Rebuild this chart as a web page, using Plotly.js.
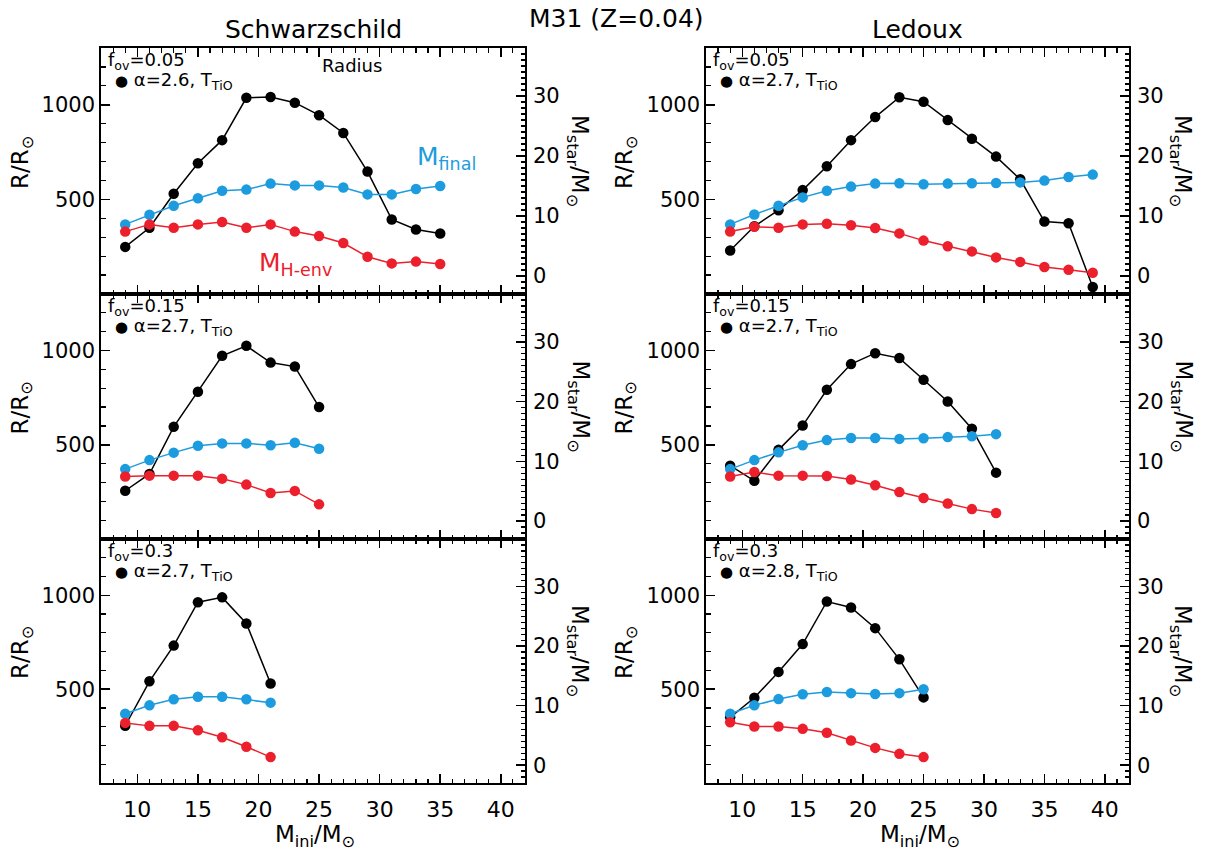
<!DOCTYPE html>
<html><head><meta charset="utf-8">
<script src="https://cdn.plot.ly/plotly-3.0.1.min.js"></script>
<style>html,body{margin:0;padding:0;background:#fff}#chart{width:1207px;height:854px}</style>
</head><body><div id="chart"></div>
<script>
// ---------------- data ----------------
// Schwarzschild, f_ov = 0.05
const mini_schw_005   = [9,11,13,15,17,19,21,23,25,27,29,31,33,35];
const radius_schw_005 = [249,350,530,691,813,1037,1041,1011,945,851,647,394,341,320];
const mfinal_schw_005 = [8.6,10.2,11.7,12.95,14.2,14.4,15.4,15.1,15.1,14.75,13.6,13.6,14.5,15.0];
const menv_schw_005   = [7.4,8.6,8.05,8.6,9.0,8.05,8.6,7.4,6.65,5.5,3.2,2.1,2.4,2.0];
// Ledoux, f_ov = 0.05
const mini_led_005    = [9,11,13,15,17,19,21,23,25,27,29,31,33,35,37,39];
const radius_led_005  = [230,358,443,549,675,813,935,1040,1016,919,820,726,606,383,374,37];
const mfinal_led_005  = [8.6,10.25,11.7,13.1,14.2,14.9,15.4,15.45,15.3,15.4,15.45,15.5,15.6,15.9,16.5,16.9];
const menv_led_005    = [7.4,8.2,8.05,8.6,8.7,8.45,8.0,7.1,5.9,4.95,4.1,3.1,2.35,1.5,1.05,0.55];
// Schwarzschild, f_ov = 0.15
const mini_schw_015   = [9,11,13,15,17,19,21,23,25];
const radius_schw_015 = [256,345,595,781,972,1025,936,915,700];
const mfinal_schw_015 = [8.7,10.2,11.45,12.6,13.0,13.0,12.7,13.1,12.1];
const menv_schw_015   = [7.45,7.6,7.6,7.6,7.1,6.1,4.7,5.05,2.8];
// Ledoux, f_ov = 0.15
const mini_led_015    = [9,11,13,15,17,19,21,23,25,27,29,31];
const radius_led_015  = [389,309,473,602,792,928,986,960,845,730,585,352];
const mfinal_led_015  = [8.7,10.2,11.5,12.7,13.55,13.9,13.9,13.75,13.85,14.05,14.2,14.55];
const menv_led_015    = [7.45,8.2,7.6,7.6,7.55,6.95,6.0,4.85,3.85,2.95,2.0,1.35];
// Schwarzschild, f_ov = 0.3
const mini_schw_03    = [9,11,13,15,17,19,21];
const radius_schw_03  = [305,542,732,963,989,850,530];
const mfinal_schw_03  = [8.65,10.05,11.06,11.5,11.5,11.06,10.5];
const menv_schw_03    = [7.1,6.6,6.6,5.85,4.7,3.1,1.35];
// Ledoux, f_ov = 0.3
const mini_led_03     = [9,11,13,15,17,19,21,23,25];
const radius_led_03   = [350,454,592,740,967,935,825,659,456];
const mfinal_led_03   = [8.65,10.05,11.1,11.9,12.3,12.1,11.95,12.1,12.75];
const menv_led_03     = [7.2,6.5,6.5,6.1,5.45,4.15,2.9,1.9,1.35];

const fovLabels   = ['0.05','0.05','0.15','0.15','0.3','0.3'];
const alphaLabels = ['2.6','2.7','2.7','2.7','2.7','2.8'];
const columnTitles = ['Schwarzschild','Ledoux'];
const mainTitle = 'M31 (Z=0.04)';

// ---------------- layout helpers ----------------
const W = 1207, H = 854;
const px = v => v / W;
const py = v => 1 - v / H;
const colPx = [[101,525],[706,1129]];
const rowPx = [[48,294],[294,539],[539,783]];
const FONT = 'DejaVu Sans, Liberation Sans, Arial, sans-serif';
const BLUE = 'rgb(28,156,222)';
const RED = 'rgb(236,32,44)';

const panels = [
  {mini: mini_schw_005, r: radius_schw_005, mf: mfinal_schw_005, me: menv_schw_005},
  {mini: mini_led_005,  r: radius_led_005,  mf: mfinal_led_005,  me: menv_led_005},
  {mini: mini_schw_015, r: radius_schw_015, mf: mfinal_schw_015, me: menv_schw_015},
  {mini: mini_led_015,  r: radius_led_015,  mf: mfinal_led_015,  me: menv_led_015},
  {mini: mini_schw_03,  r: radius_schw_03,  mf: mfinal_schw_03,  me: menv_schw_03},
  {mini: mini_led_03,   r: radius_led_03,   mf: mfinal_led_03,   me: menv_led_03}
];

const data = [];
const layout = {
  width: W, height: H,
  margin: {l:0, r:0, t:0, b:0},
  paper_bgcolor: '#fff', plot_bgcolor: 'rgba(0,0,0,0)',
  showlegend: false,
  font: {family: FONT, color: '#000', size: 20},
  annotations: []
};

panels.forEach((p, i) => {
  const col = i % 2, row = Math.floor(i / 2);
  const xs = i === 0 ? '' : String(i + 1);
  const yl = 2 * i + 1, yr = 2 * i + 2;
  const ylName = yl === 1 ? '' : String(yl);
  const xKey = 'x' + xs, ylKey = 'y' + ylName, yrKey = 'y' + yr;
  const mk = (c) => ({color: c, size: 10.5});
  data.push({x: p.mini, y: p.r, xaxis: xKey, yaxis: ylKey, mode: 'lines+markers',
             line: {color: '#000', width: 1.5}, marker: mk('#000'), cliponaxis: false});
  data.push({x: p.mini, y: p.mf, xaxis: xKey, yaxis: yrKey, mode: 'lines+markers',
             line: {color: BLUE, width: 1.5}, marker: mk(BLUE), cliponaxis: false});
  data.push({x: p.mini, y: p.me, xaxis: xKey, yaxis: yrKey, mode: 'lines+markers',
             line: {color: RED, width: 1.5}, marker: mk(RED), cliponaxis: false});

  const xdom = [px(colPx[col][0]), px(colPx[col][1])];
  const ydom = [py(rowPx[row][1]), py(rowPx[row][0])];
  layout['xaxis' + xs] = {
    domain: xdom, anchor: ylKey, range: [7, 42],
    tickmode: 'linear', tick0: 0, dtick: 5,
    ticks: 'inside', ticklen: 9, tickwidth: 1.5, tickcolor: '#000',
    minor: {ticks: 'inside', dtick: 1, tick0: 0, ticklen: 4.5, tickwidth: 1.2, tickcolor: '#000'},
    showline: true, linewidth: 1.8, linecolor: '#000', mirror: 'ticks',
    showgrid: false, zeroline: false,
    showticklabels: row === 2, ticklabelstandoff: 6,
    tickfont: {size: 22, family: FONT}
  };
  layout['yaxis' + ylName] = {
    domain: ydom, anchor: xKey, range: [0, 1300],
    tickmode: 'array', tickvals: [500, 1000], ticktext: ['500','1000'],
    ticks: 'inside', ticklen: 9, tickwidth: 1.5, tickcolor: '#000',
    minor: {ticks: 'inside', tickmode: 'linear', tick0: 0, dtick: 100, ticklen: 4.5, tickwidth: 1.2, tickcolor: '#000'},
    showline: true, linewidth: 1.8, linecolor: '#000',
    showgrid: false, zeroline: false, ticklabelstandoff: 0,
    tickfont: {size: 21, family: FONT}
  };
  layout['yaxis' + yr] = {
    domain: ydom, anchor: xKey, overlaying: ylKey, side: 'right', range: [-3, 38],
    tickmode: 'linear', tick0: 0, dtick: 10,
    ticks: 'inside', ticklen: 9, tickwidth: 1.5, tickcolor: '#000',
    minor: {ticks: 'inside', dtick: 1, tick0: 0, ticklen: 4.5, tickwidth: 1.2, tickcolor: '#000'},
    showline: true, linewidth: 1.8, linecolor: '#000',
    showgrid: false, zeroline: false, ticklabelstandoff: 2,
    tickfont: {size: 21, family: FONT}
  };

  const x0 = colPx[col][0], top = rowPx[row][0], bot = rowPx[row][1];
  const mid = (top + bot) / 2;
  // panel labels
  layout.annotations.push({xref:'paper', yref:'paper', x: px(x0 + 5), y: py(top + 13),
    xanchor:'left', yanchor:'middle', showarrow:false,
    text: 'f<sub>ov</sub>=' + fovLabels[i], font:{size:18, family: FONT}});
  layout.annotations.push({xref:'paper', yref:'paper', x: px(x0 + 12), y: py(top + 33),
    xanchor:'left', yanchor:'middle', showarrow:false,
    text: '<span style="font-size:15px">●</span> α=' + alphaLabels[i] + ', T<sub>TiO</sub>', font:{size:18, family: FONT}});
  // axis titles
  layout.annotations.push({xref:'paper', yref:'paper', x: px(col === 0 ? 22 : 626), y: py(mid - 8),
    xanchor:'center', yanchor:'middle', showarrow:false, textangle:-90,
    text: 'R/R<sub>⊙</sub>', font:{size:23, family: FONT}});
  layout.annotations.push({xref:'paper', yref:'paper', x: px(col === 0 ? 578 : 1181), y: py(mid - 10),
    xanchor:'center', yanchor:'middle', showarrow:false, textangle:90,
    text: 'M<sub>star</sub>/M<sub>⊙</sub>', font:{size:23, family: FONT}});
});

// column titles, main title, x titles, curve labels
columnTitles.forEach((t, c) => {
  const cx = (colPx[c][0] + colPx[c][1]) / 2;
  layout.annotations.push({xref:'paper', yref:'paper', x: px(cx), y: py(29),
    xanchor:'center', yanchor:'middle', showarrow:false, text: t, font:{size:25, family: FONT}});
  layout.annotations.push({xref:'paper', yref:'paper', x: px(cx + 2), y: py(836),
    xanchor:'center', yanchor:'middle', showarrow:false,
    text: 'M<sub>ini</sub>/M<sub>⊙</sub>', font:{size:23, family: FONT}});
});
layout.annotations.push({xref:'paper', yref:'paper', x: px(617), y: py(18),
  xanchor:'center', yanchor:'middle', showarrow:false, text: mainTitle, font:{size:25, family: FONT}});
layout.annotations.push({xref:'paper', yref:'paper', x: px(352), y: py(66),
  xanchor:'center', yanchor:'middle', showarrow:false, text: 'Radius', font:{size:18, family: FONT}});
layout.annotations.push({xref:'paper', yref:'paper', x: px(415), y: py(158),
  xanchor:'left', yanchor:'middle', showarrow:false, text: 'M<sub>final</sub>', font:{size:25, color: BLUE, family: FONT}});
layout.annotations.push({xref:'paper', yref:'paper', x: px(257), y: py(264),
  xanchor:'left', yanchor:'middle', showarrow:false, text: 'M<sub>H-env</sub>', font:{size:25, color: RED, family: FONT}});

Plotly.newPlot('chart', data, layout, {staticPlot: true});
</script>
</body></html>
